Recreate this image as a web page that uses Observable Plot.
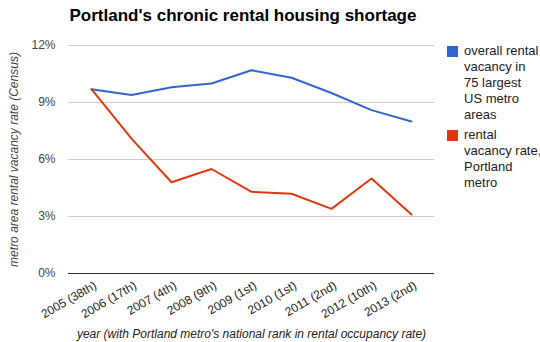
<!DOCTYPE html>
<html>
<head>
<meta charset="utf-8">
<script src="https://cdn.jsdelivr.net/npm/d3@7"></script>
<script src="https://cdn.jsdelivr.net/npm/@observablehq/plot@0.6"></script>
<style>
  html, body { margin: 0; padding: 0; background: #fff; }
  #wrap { position: relative; width: 540px; height: 342px; font-family: Arial, "Liberation Sans", sans-serif; }
  #title { position: absolute; left: 0; width: 486px; top: 6px; text-align: center; font-weight: bold; font-size: 17px; color: #000; }
  #legend { position: absolute; left: 447px; top: 43px; font-size: 13px; color: #222; line-height: 16px; }
  .item { position: relative; padding-left: 17px; margin-bottom: 4px; white-space: nowrap; }
  .sw { position: absolute; left: 0; top: 3px; width: 11px; height: 11px; }
  #chart { position: absolute; left: 0; top: 0; }
  g[aria-label="y-axis label"] text, g[aria-label="x-axis label"] text { font-style: italic; }
</style>
</head>
<body>
<div id="wrap">
  <div id="chart"></div>
  <div id="title">Portland's chronic rental housing shortage</div>
  <div id="legend"></div>
</div>
<script>
const years = ["2005 (38th)", "2006 (17th)", "2007 (4th)", "2008 (9th)", "2009 (1st)", "2010 (1st)", "2011 (2nd)", "2012 (10th)", "2013 (2nd)"];
const usMetro = [9.7, 9.4, 9.8, 10.0, 10.7, 10.3, 9.5, 8.6, 8.0];
const portland = [9.7, 7.1, 4.8, 5.5, 4.3, 4.2, 3.4, 5.0, 3.1];
const seriesNames = ["overall rental vacancy in 75 largest US metro areas", "rental vacancy rate, Portland metro"];
const legendLines = [["overall rental", "vacancy in", "75 largest", "US metro", "areas"], ["rental", "vacancy rate,", "Portland", "metro"]];
const seriesColors = ["#3366cc", "#dc3912"];
const yTicks = [0, 3, 6, 9, 12];

const rows = [];
years.forEach((y, i) => {
  rows.push({year: y, value: usMetro[i], series: seriesNames[0]});
  rows.push({year: y, value: portland[i], series: seriesNames[1]});
});

const chart = Plot.plot({
  width: 540,
  height: 342,
  marginTop: 45,
  marginLeft: 68,
  marginRight: 106,
  marginBottom: 69,
  style: {fontFamily: "Arial, 'Liberation Sans', sans-serif", fontSize: "12px", color: "#222", background: "#fff"},
  x: {type: "point", domain: years, padding: 0.5},
  y: {domain: [0, 12]},
  color: {domain: seriesNames, range: seriesColors},
  marks: [
    Plot.gridY(yTicks, {stroke: "#cccccc", strokeOpacity: 1}),
    Plot.ruleY([0], {stroke: "#333"}),
    Plot.axisY({ticks: yTicks, tickSize: 0, tickPadding: 13, tickFormat: d => d + "%", fill: "#444",
      label: "metro area rental vacancy rate (Census)", labelAnchor: "center", labelArrow: "none", labelOffset: 59}),
    Plot.axisX({tickSize: 0, tickPadding: 11, tickRotate: -30, fill: "#222", dx: 4,
      label: "year (with Portland metro's national rank in rental occupancy rate)", labelAnchor: "center", labelArrow: "none", labelOffset: 64}),
    Plot.line(rows, {x: "year", y: "value", z: "series", stroke: "series", strokeWidth: 2, strokeLinejoin: "round"})
  ]
});
document.getElementById("chart").appendChild(chart);

const legend = document.getElementById("legend");
seriesNames.forEach((n, i) => {
  const d = document.createElement("div");
  d.className = "item";
  d.title = n;
  d.innerHTML = `<span class="sw" style="background:${seriesColors[i]}"></span>` + legendLines[i].join("<br>");
  legend.appendChild(d);
});
</script>
</body>
</html>
